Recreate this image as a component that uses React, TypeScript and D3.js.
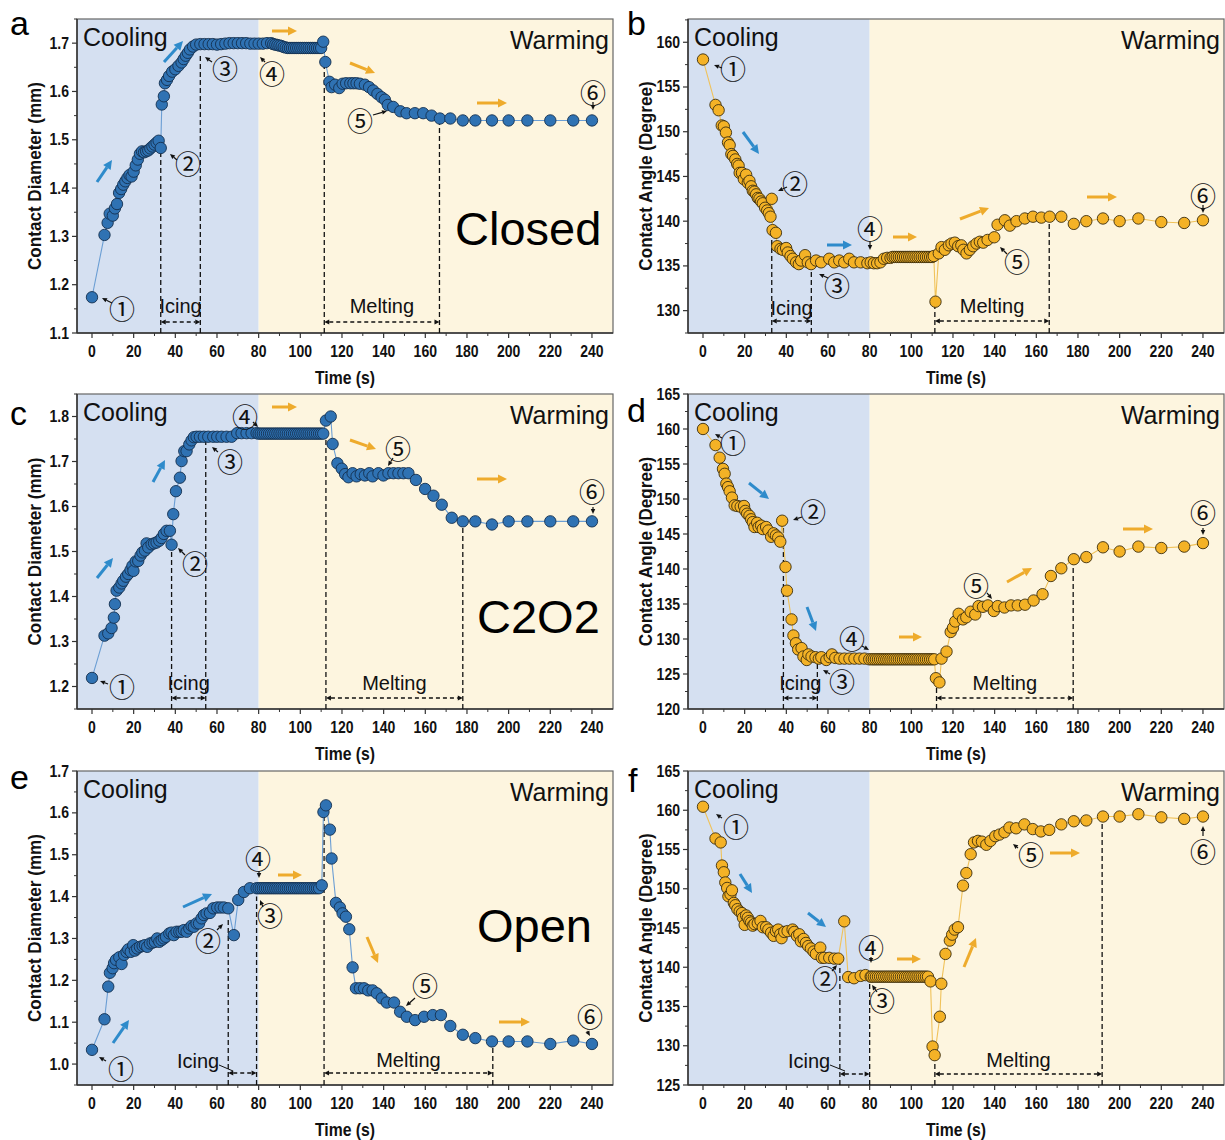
import React from "react";
import * as d3 from "d3";

type Pt = [number, number];
type Seg = [number, number, number, number];

// ---------- DATA ----------
const timeTicks = [0, 20, 40, 60, 80, 100, 120, 140, 160, 180, 200, 220, 240];
const timeDomain: [number, number] = [-7.2, 250.1];
const phaseSplit = 80;

const closedDiameter: Pt[] = [
  [0, 1.174], [6, 1.303], [7.5, 1.328], [8.5, 1.347], [10, 1.343], [11, 1.358], [12, 1.367], [13, 1.39], [14, 1.398],
  [15, 1.407], [16, 1.414], [17, 1.421], [18, 1.427], [19, 1.424], [20, 1.434], [21, 1.447], [22, 1.459], [23, 1.471],
  [24, 1.476], [25, 1.474], [26, 1.476], [27, 1.478], [28, 1.482], [29, 1.486], [30, 1.49], [31, 1.494], [32, 1.498],
  [33, 1.483], [33.5, 1.573], [34.5, 1.59], [35, 1.617], [36, 1.624], [37, 1.632], [38.5, 1.641], [40, 1.646],
  [41.5, 1.653], [43, 1.66], [44, 1.667], [45, 1.674], [46, 1.68], [47, 1.687], [48.5, 1.693], [50, 1.697], [52, 1.698],
  [54, 1.698], [56, 1.698], [58, 1.698], [60, 1.697], [62, 1.698], [64, 1.699], [66, 1.7], [68, 1.7], [70, 1.7], [72, 1.7],
  [74, 1.7], [76, 1.699], [78, 1.699], [80, 1.699], [82, 1.699], [84, 1.7], [86, 1.7], [87, 1.698], [88, 1.697],
  [89, 1.696], [90, 1.695], [91, 1.694], [92, 1.692], [93, 1.691], [94, 1.69], [95, 1.69], [96, 1.69], [97, 1.69],
  [98, 1.69], [99, 1.69], [100, 1.69], [101, 1.69], [102, 1.69], [103, 1.69], [104, 1.69], [105, 1.69], [106, 1.69],
  [107, 1.69], [108, 1.69], [109, 1.69], [110, 1.69], [111, 1.703], [112, 1.661], [114, 1.62], [115, 1.609],
  [116.7, 1.614], [118.7, 1.607], [120.3, 1.616], [122, 1.617], [124, 1.617], [125.5, 1.617], [127, 1.617],
  [128.6, 1.616], [131, 1.614], [133, 1.609], [135, 1.602], [137, 1.595], [139, 1.588], [140.6, 1.583], [142, 1.572],
  [144.6, 1.568], [148, 1.559], [151, 1.555], [155, 1.555], [159, 1.555], [163, 1.55], [167, 1.544], [172, 1.544],
  [178, 1.54], [184, 1.54], [192, 1.54], [200, 1.54], [209, 1.54], [220, 1.54], [231, 1.54], [240, 1.54],
];

const closedAngle: Pt[] = [
  [0, 158.07], [6, 153.0], [7.5, 152.4], [9, 150.7], [10, 150.6], [11, 149.9], [12, 148.8], [12.8, 148.5], [13.6, 147.5],
  [14.4, 147.3], [15.5, 146.9], [16.4, 146.4], [17.1, 146.2], [17.6, 145.4], [18.7, 145.4], [19.6, 144.7], [20.7, 145.2],
  [21.5, 144.3], [22.3, 144.5], [23.1, 143.9], [23.9, 143.4], [24.7, 143.3], [25.5, 143], [26.3, 142.6], [27.1, 142.5],
  [27.9, 142.2], [28.7, 142], [29.8, 141.5], [30.8, 141.2], [31.6, 140.9], [32.4, 140.5], [33, 142.5], [33.4, 139],
  [35, 138.7], [35.6, 137.2], [37.2, 136.9], [38.3, 136.8], [39.9, 137], [40.7, 136.5], [42, 136.1], [43.1, 135.8],
  [44.7, 135.4], [46, 135.2], [47.1, 135.6], [49, 136.2], [50.3, 135.4], [51.9, 135.2], [54.3, 135.6], [56.7, 135.4],
  [60.6, 135.8], [63, 135.4], [65.4, 135.6], [67.8, 135.4], [70.2, 135.8], [72.5, 135.4], [75.7, 135.4], [78.9, 135.3],
  [80.5, 135.4], [82, 135.3], [83.6, 135.3], [85.2, 135.4], [86.8, 135.8], [88.4, 135.9], [90, 135.9], [91, 136],
  [92, 136], [93, 136], [94, 136], [95, 136], [96, 136], [97, 136], [98, 136], [99, 136], [100, 136], [101, 136],
  [102, 136], [103, 136], [104, 136], [105, 136], [106, 136], [107, 136], [108, 136], [109, 136], [110, 136],
  [110.8, 136.1], [111.6, 131], [113.2, 136.4], [114.5, 137.1], [116.1, 136.8], [118, 137.3], [119.3, 137.5],
  [120.9, 137.6], [122.5, 137.2], [124, 137.3], [125, 136.8], [126.5, 136.4], [128.1, 136.8], [129.7, 137.2],
  [131.3, 137.5], [132.9, 137.7], [134.5, 137.6], [136.6, 137.9], [139.8, 138.2], [141.4, 139.6], [144.9, 140.1],
  [147.3, 139.5], [150.5, 140], [154.5, 140.3], [158.4, 140.5], [162.4, 140.4], [166.4, 140.5], [172, 140.5],
  [178, 139.7], [184, 140], [192, 140.3], [200, 140], [209, 140.3], [220, 139.9], [231, 139.8], [240, 140.1],
];

const c2o2Diameter: Pt[] = [
  [0, 1.219], [6, 1.313], [7.8, 1.318], [9.4, 1.33], [10.5, 1.353], [11, 1.383], [11.8, 1.413], [13.1, 1.42],
  [14.2, 1.429], [15, 1.435], [16.3, 1.444], [17.4, 1.45], [18.5, 1.459], [19.4, 1.468], [19.9, 1.457], [21, 1.478],
  [22.2, 1.479], [23.3, 1.491], [24.2, 1.498], [25.4, 1.502], [26.2, 1.518], [27, 1.509], [28.6, 1.516], [29.8, 1.518],
  [31, 1.52], [32.3, 1.524], [33.4, 1.53], [34.5, 1.539], [35.8, 1.546], [37.4, 1.546], [38.2, 1.515], [39, 1.583],
  [40.3, 1.634], [42.2, 1.664], [43, 1.701], [44.3, 1.723], [45.4, 1.723], [46.7, 1.738], [47.8, 1.747], [48.9, 1.754],
  [50.2, 1.755], [51.8, 1.755], [53.7, 1.755], [55.8, 1.755], [58.2, 1.755], [60.1, 1.755], [62.2, 1.755],
  [64.6, 1.755], [67, 1.755], [69.7, 1.763], [71.8, 1.763], [74.2, 1.763], [76.6, 1.763], [79, 1.763], [80, 1.762],
  [81, 1.762], [82, 1.762], [83, 1.762], [84, 1.762], [85, 1.762], [86, 1.762], [87, 1.762], [88, 1.762], [89, 1.762],
  [90, 1.762], [91, 1.762], [92, 1.762], [93, 1.762], [94, 1.762], [95, 1.762], [96, 1.762], [97, 1.762], [98, 1.762],
  [99, 1.762], [100, 1.762], [101, 1.762], [102, 1.762], [103, 1.762], [104, 1.762], [105, 1.762], [106, 1.762],
  [107, 1.762], [108, 1.762], [109, 1.762], [110, 1.762], [111, 1.762], [112.3, 1.791], [114.6, 1.8], [115.5, 1.739],
  [117.8, 1.696], [119.9, 1.684], [121.5, 1.672], [123.1, 1.665], [125.1, 1.674], [127, 1.667], [129, 1.672],
  [131, 1.669], [133.1, 1.674], [134.7, 1.667], [137.5, 1.674], [139.9, 1.669], [142.3, 1.674], [144.7, 1.674],
  [147.1, 1.674], [149.5, 1.674], [151.9, 1.674], [155.5, 1.659], [159.9, 1.639], [163.9, 1.624], [167.9, 1.604],
  [172.7, 1.575], [178, 1.567], [184, 1.567], [192, 1.56], [200, 1.567], [209, 1.567], [220, 1.567], [231, 1.567],
  [240, 1.567],
];

const c2o2Angle: Pt[] = [
  [0, 160], [6, 157.7], [8, 155.9], [9.6, 154.3], [10.4, 153.6], [11.2, 152.2], [12, 151.7], [12.8, 151.1],
  [13.9, 150.2], [15.2, 149.1], [16.5, 149], [18.1, 148.9], [19.7, 149], [20.3, 148.3], [21.2, 147.9], [22.3, 147.6],
  [23.1, 147.1], [23.9, 146.7], [24.7, 146], [26, 146.6], [26.7, 146], [27.9, 146.2], [28.7, 145.7], [30.3, 146],
  [31.4, 145.5], [32.7, 144.6], [33.9, 145.1], [35, 144.8], [36.1, 144.5], [37.1, 143.9], [38, 146.9], [39.6, 140.3],
  [40.3, 136.9], [42.5, 132.8], [43.4, 130.5], [44.6, 129.4], [45.7, 128.5], [47.3, 128.7], [48.2, 127.5], [49.8, 127],
  [50.6, 127.8], [52.1, 127.5], [54, 127.4], [55.6, 127.2], [56.8, 127.4], [59.2, 127], [60.8, 127.4], [61.9, 127.8],
  [63.5, 127.3], [65.6, 127.2], [67.9, 127.2], [70.3, 127.2], [72.7, 127.2], [75.1, 127.2], [77.5, 127.2],
  [79.8, 127.1], [81, 127.1], [82, 127.1], [83, 127.1], [84, 127.1], [85, 127.1], [86, 127.1], [87, 127.1], [88, 127.1],
  [89, 127.1], [90, 127.1], [91, 127.1], [92, 127.1], [93, 127.1], [94, 127.1], [95, 127.1], [96, 127.1], [97, 127.1],
  [98, 127.1], [99, 127.1], [100, 127.1], [101, 127.1], [102, 127.1], [103, 127.1], [104, 127.1], [105, 127.1],
  [106, 127.1], [107, 127.1], [108, 127.1], [109, 127.1], [110, 127.1], [111, 127.1], [111.8, 124.4], [113.5, 123.8],
  [114.5, 127.2], [116.9, 128.2], [118.9, 131], [120, 131.6], [121.1, 132.5], [122.7, 133.6], [124.8, 132.8],
  [126.4, 133.1], [128.5, 133.9], [130.7, 133.5], [132.3, 134.7], [134.4, 134.6], [136.8, 134.8], [139.6, 134],
  [141.5, 134.7], [144.7, 134.5], [147.9, 134.8], [151.1, 134.8], [154.6, 134.9], [158.7, 135.5], [163, 136.4],
  [167, 139], [172, 140.1], [178, 141.4], [184, 141.7], [192, 143.1], [200, 142.5], [209, 143.2], [220, 143],
  [231, 143.2], [240, 143.7],
];

const openDiameter: Pt[] = [
  [0, 1.034], [6, 1.107], [7.8, 1.185], [8.6, 1.218], [9.9, 1.229], [10.6, 1.241], [11.5, 1.249], [13.1, 1.255],
  [14.2, 1.239], [15.4, 1.261], [16.6, 1.268], [17.4, 1.274], [18.6, 1.268], [19.8, 1.284], [20.6, 1.271], [21.7, 1.276],
  [23, 1.28], [24.3, 1.282], [25.4, 1.284], [26.5, 1.28], [27.8, 1.288], [29.1, 1.29], [30.2, 1.292], [31.3, 1.3],
  [32.3, 1.292], [33.4, 1.296], [34.5, 1.3], [35.5, 1.304], [37.1, 1.312], [38.2, 1.314], [39.3, 1.308], [40.6, 1.316],
  [41.9, 1.316], [43, 1.316], [44.1, 1.32], [45.4, 1.316], [46.7, 1.324], [47.8, 1.33], [48.9, 1.328], [50.2, 1.336],
  [51.4, 1.336], [52.6, 1.348], [53.7, 1.356], [55, 1.36], [56.6, 1.361], [58.2, 1.372], [60.1, 1.374], [61.7, 1.374],
  [63.3, 1.374], [65.4, 1.372], [68.1, 1.308], [70.2, 1.392], [72.9, 1.411], [75.8, 1.42], [79, 1.42], [80, 1.42],
  [81, 1.42], [82, 1.42], [83, 1.42], [84, 1.42], [85, 1.42], [86, 1.42], [87, 1.42], [88, 1.42], [89, 1.42], [90, 1.42],
  [91, 1.42], [92, 1.42], [93, 1.42], [94, 1.42], [95, 1.42], [96, 1.42], [97, 1.42], [98, 1.42], [99, 1.42], [100, 1.42],
  [101, 1.42], [102, 1.42], [103, 1.42], [104, 1.42], [105, 1.42], [106, 1.42], [107, 1.42], [108, 1.42], [109, 1.42],
  [110.3, 1.427], [111.1, 1.602], [112.3, 1.618], [114.2, 1.56], [115, 1.491], [117.1, 1.385], [119, 1.374],
  [120.3, 1.36], [121.9, 1.352], [123.5, 1.322], [125.1, 1.231], [126.7, 1.181], [128.6, 1.181], [130.6, 1.181],
  [132.6, 1.176], [134.7, 1.176], [136.7, 1.169], [139.1, 1.157], [141.5, 1.147], [145, 1.147], [147.9, 1.125],
  [151.1, 1.113], [155.1, 1.105], [159.4, 1.113], [163.6, 1.117], [167.5, 1.117], [172, 1.091], [178, 1.07],
  [184, 1.062], [192, 1.054], [200, 1.054], [209, 1.054], [220, 1.048], [231, 1.056], [240, 1.048],
];

const openAngle: Pt[] = [
  [0, 160.45], [6, 156.4], [8.5, 155.9], [9.1, 152.96], [10, 152.1], [10.7, 150.8], [11.6, 150.1], [12.2, 149.04],
  [13.2, 149.3], [13.9, 149.8], [14.8, 148.2], [15.5, 147.9], [16.5, 147.4], [17.6, 147.1], [18.7, 146.9], [19.2, 146.3],
  [20, 145.4], [20.7, 146.6], [21.5, 146.3], [22.3, 145.9], [23.1, 145.7], [23.9, 145.3], [24.7, 145.5], [26.3, 145.6],
  [27.6, 145.9], [28.7, 145.1], [30.3, 145.1], [31.4, 144.8], [32.7, 144.4], [33.9, 144], [35, 144.6], [36.1, 144.8],
  [37.1, 144.2], [37.7, 143.7], [39, 144.5], [40.6, 144.6], [43, 144.8], [43.8, 144.5], [45.1, 144], [46.2, 144.2],
  [47, 143.3], [48.3, 143.6], [49.4, 143.1], [50.5, 142.7], [51.8, 142.4], [53.1, 142], [54.2, 141.7], [56.3, 142.5],
  [57, 141.2], [58.2, 141.2], [60.6, 141.2], [63, 141.1], [64.9, 141.1], [67.8, 145.85], [69.7, 138.75], [72.5, 138.6],
  [75.7, 138.9], [78, 139], [80.5, 138.8], [81, 138.8], [82, 138.8], [83, 138.8], [84, 138.8], [85, 138.8], [86, 138.8],
  [87, 138.8], [88, 138.8], [89, 138.8], [90, 138.8], [91, 138.8], [92, 138.8], [93, 138.8], [94, 138.8], [95, 138.8],
  [96, 138.8], [97, 138.8], [98, 138.8], [99, 138.8], [100, 138.8], [101, 138.8], [102, 138.8], [103, 138.8],
  [104, 138.8], [105, 138.8], [106, 138.8], [107, 138.8], [108, 138.8], [109.2, 138.2], [110.2, 129.9], [111.2, 128.8],
  [113.7, 133.7], [114.4, 137.9], [116.4, 141.7], [118.5, 143.4], [119.6, 144.15], [120.8, 144.8], [122.4, 145.1],
  [124.8, 150.4], [126.4, 152], [128.5, 154.4], [130.1, 155.9], [132, 156.1], [133.9, 156], [136, 155.6], [138, 156.1],
  [140.3, 156.7], [142.3, 156.9], [144.7, 157.2], [147.1, 157.8], [150.3, 157.7], [154.3, 158.2], [158.3, 157.6],
  [162.2, 157.3], [166.2, 157.5], [172, 158.2], [178, 158.6], [184, 158.7], [192, 159.2], [200, 159.2], [209, 159.5],
  [220, 159.1], [231, 158.9], [240, 159.2],
];

const diamTicksA = [1.1, 1.2, 1.3, 1.4, 1.5, 1.6, 1.7];
const diamTicksC = [1.2, 1.3, 1.4, 1.5, 1.6, 1.7, 1.8];
const diamTicksE = [1.0, 1.1, 1.2, 1.3, 1.4, 1.5, 1.6, 1.7];
const angleTicksB = [130, 135, 140, 145, 150, 155, 160];
const angleTicksD = [120, 125, 130, 135, 140, 145, 150, 155, 160, 165];
const angleTicksF = [125, 130, 135, 140, 145, 150, 155, 160, 165];

// ---------- STYLE ----------
const FONT = "'Liberation Sans', Arial, Helvetica, sans-serif";
const COOL_BG = "#d5e0f1";
const WARM_BG = "#fdf5df";
const STYLES = {
  blue: { fill: "#2f72b3", stroke: "#14304f", line: "#6b9ed4" },
  orange: { fill: "#f4b226", stroke: "#3b2e0e", line: "#f0c25a" },
};
const TREND = { blue: "#2e8bcb", orange: "#eeab2c" };

interface Phase {
  t1: number; t2: number; top1: number; top2: number;
  ay: number; ty: number; label: string; tx?: number; leader?: Seg;
}
interface PanelCfg {
  letter: string; lx: number; ly: number;
  x0: number; y0: number; w: number; h: number;
  yDomain: [number, number]; yTicks: number[]; yFmt: (v: number) => string;
  yLabel: string; data: Pt[]; kind: "blue" | "orange";
  circled: [string, number, number][];
  pointers: Seg[];
  trends: ["blue" | "orange", number, number, number, number][];
  icing: Phase; melting: Phase;
  big?: [string, number, number];
}

const f1 = d3.format(".1f");
const fd = d3.format("d");

const panels: PanelCfg[] = [
  {
    letter: "a", lx: 10, ly: 35, x0: 77, y0: 19, w: 536, h: 314,
    yDomain: [1.1, 1.75], yTicks: diamTicksA, yFmt: f1, yLabel: "Contact Diameter (mm)",
    data: closedDiameter, kind: "blue",
    circled: [["①", 45, 291], ["②", 111, 146], ["③", 148, 51], ["④", 195, 56], ["⑤", 283, 103], ["⑥", 516, 75]],
    pointers: [[35, 284, 25, 279], [100, 141, 93, 135], [135, 43, 128, 38], [188, 43, 183, 38], [296, 96, 310, 92], [516, 83, 516, 91]],
    trends: [["blue", 20, 163, 35, 141], ["blue", 87, 43, 106, 22], ["orange", 195, 12, 220, 12], ["orange", 273, 44, 298, 54], ["orange", 400, 84, 430, 84]],
    icing: { t1: 33, t2: 52, top1: 1.483, top2: 1.675, ay: 303, ty: 294, label: "Icing" },
    melting: { t1: 111.5, t2: 166.8, top1: 1.661, top2: 1.545, ay: 303, ty: 294, label: "Melting" },
    big: ["Closed", 378, 226],
  },
  {
    letter: "b", lx: 627, ly: 35, x0: 688, y0: 19, w: 536, h: 314,
    yDomain: [127.5, 162.6], yTicks: angleTicksB, yFmt: fd, yLabel: "Contact Angle (Degree)",
    data: closedAngle, kind: "orange",
    circled: [["①", 45, 51], ["②", 107, 166], ["③", 149, 268], ["④", 182, 211], ["⑤", 329, 244], ["⑥", 515, 178]],
    pointers: [[34, 49, 26, 46], [99, 168, 90, 172], [140, 259, 131, 255], [182, 222, 182, 231], [319, 235, 312, 228], [515, 186, 515, 194]],
    trends: [["blue", 55, 113, 71, 135], ["blue", 139, 226, 164, 226], ["orange", 205, 218, 229, 218], ["orange", 272, 200, 301, 189], ["orange", 399, 178, 429, 178]],
    icing: { t1: 33, t2: 52, top1: 139, top2: 135, ay: 302, ty: 296, label: "Icing" },
    melting: { t1: 111.3, t2: 166.2, top1: 131, top2: 140.5, ay: 302, ty: 294, label: "Melting" },
  },
  {
    letter: "c", lx: 10, ly: 425, x0: 77, y0: 394, w: 536, h: 315,
    yDomain: [1.15, 1.85], yTicks: diamTicksC, yFmt: f1, yLabel: "Contact Diameter (mm)",
    data: c2o2Diameter, kind: "blue",
    circled: [["①", 45, 294], ["②", 118, 171], ["③", 153, 69], ["④", 168, 24], ["⑤", 321, 56], ["⑥", 515, 99]],
    pointers: [[31, 290, 23, 287], [108, 161, 101, 154], [141, 58, 135, 53], [176, 28, 181, 33], [316, 64, 311, 72], [516, 113, 516, 120]],
    trends: [["blue", 20, 184, 36, 164], ["blue", 76, 88, 88, 66], ["orange", 195, 13, 220, 13], ["orange", 273, 46, 299, 55], ["orange", 400, 85, 430, 85]],
    icing: { t1: 38.2, t2: 54.6, top1: 1.515, top2: 1.755, ay: 304, ty: 296, label: "Icing" },
    melting: { t1: 112.3, t2: 178, top1: 1.76, top2: 1.567, ay: 304, ty: 296, label: "Melting" },
    big: ["C2O2", 400, 239],
  },
  {
    letter: "d", lx: 627, ly: 422, x0: 688, y0: 394, w: 536, h: 315,
    yDomain: [120, 165], yTicks: angleTicksD, yFmt: fd, yLabel: "Contact Angle (Degree)",
    data: c2o2Angle, kind: "orange",
    circled: [["①", 45, 50], ["②", 125, 119], ["③", 154, 289], ["④", 164, 246], ["⑤", 288, 193], ["⑥", 515, 120]],
    pointers: [[34, 44, 27, 40], [114, 123, 105, 126], [142, 280, 135, 276], [174, 252, 181, 256], [299, 199, 304, 205], [515, 134, 515, 141]],
    trends: [["blue", 61, 89, 81, 105], ["blue", 119, 213, 128, 237], ["orange", 211, 243, 234, 243], ["orange", 319, 188, 344, 174], ["orange", 435, 135, 465, 135]],
    icing: { t1: 38.6, t2: 54.9, top1: 146, top2: 127.3, ay: 304, ty: 296, label: "Icing" },
    melting: { t1: 112.1, t2: 177.7, top1: 124.4, top2: 141.4, ay: 304, ty: 296, label: "Melting" },
  },
  {
    letter: "e", lx: 10, ly: 789, x0: 77, y0: 771, w: 536, h: 314,
    yDomain: [0.95, 1.7], yTicks: diamTicksE, yFmt: f1, yLabel: "Contact Diameter (mm)",
    data: openDiameter, kind: "blue",
    circled: [["①", 44, 299], ["②", 131, 171], ["③", 193, 146], ["④", 181, 89], ["⑤", 348, 216], ["⑥", 513, 247]],
    pointers: [[29, 290, 22, 286], [140, 159, 146, 153], [186, 136, 183, 129], [182, 100, 182, 107], [338, 227, 329, 235], [510, 260, 513, 265]],
    trends: [["blue", 36, 272, 52, 249], ["blue", 106, 136, 135, 123], ["orange", 201, 104, 225, 104], ["orange", 290, 166, 301, 192], ["orange", 422, 251, 453, 251]],
    icing: { t1: 65.4, t2: 79, top1: 1.348, top2: 1.4, ay: 302, ty: 297, label: "Icing", tx: 121, leader: [142, 294, 156, 300] },
    melting: { t1: 111.4, t2: 192.4, top1: 1.6, top2: 1.054, ay: 302, ty: 296, label: "Melting" },
    big: ["Open", 400, 171],
  },
  {
    letter: "f", lx: 628, ly: 792, x0: 688, y0: 771, w: 536, h: 314,
    yDomain: [125, 165], yTicks: angleTicksF, yFmt: fd, yLabel: "Contact Angle (Degree)",
    data: openAngle, kind: "orange",
    circled: [["①", 48, 57], ["②", 137, 209], ["③", 194, 231], ["④", 183, 178], ["⑤", 343, 85], ["⑥", 515, 82]],
    pointers: [[34, 47, 28, 43], [144, 200, 149, 194], [189, 221, 184, 214], [183, 186, 183, 192], [330, 77, 325, 73], [515, 65, 515, 55]],
    trends: [["blue", 52, 103, 64, 122], ["blue", 120, 142, 138, 156], ["orange", 209, 188, 233, 188], ["orange", 276, 196, 288, 167], ["orange", 362, 82, 392, 82]],
    icing: { t1: 65.7, t2: 80, top1: 141.1, top2: 138.6, ay: 303, ty: 297, label: "Icing", tx: 121, leader: [142, 294, 157, 300] },
    melting: { t1: 111.3, t2: 191.6, top1: 128.8, top2: 159.2, ay: 303, ty: 296, label: "Melting" },
  },
];

// ---------- HELPERS ----------
function head(x1: number, y1: number, x2: number, y2: number, len: number, wid: number) {
  const a = Math.atan2(y2 - y1, x2 - x1);
  const bx = x2 - len * Math.cos(a), by = y2 - len * Math.sin(a);
  const px = (-Math.sin(a) * wid) / 2, py = (Math.cos(a) * wid) / 2;
  return { d: `M${x2},${y2}L${bx + px},${by + py}L${bx - px},${by - py}Z`, bx, by };
}

function Arrow({ s, color, width, len, wid }: { s: Seg; color: string; width: number; len: number; wid: number }) {
  const [x1, y1, x2, y2] = s;
  const h = head(x1, y1, x2, y2, len, wid);
  return (
    <g>
      <line x1={x1} y1={y1} x2={h.bx} y2={h.by} stroke={color} strokeWidth={width} />
      <path d={h.d} fill={color} />
    </g>
  );
}

function Panel({ c }: { c: PanelCfg }) {
  const { x0, y0, w, h } = c;
  const x = d3.scaleLinear().domain(timeDomain).range([x0, x0 + w]);
  const y = d3.scaleLinear().domain(c.yDomain).range([y0 + h, y0]);
  const st = STYLES[c.kind];
  const line = d3.line<Pt>().x((d) => x(d[0])).y((d) => y(d[1]));
  const split = x(phaseSplit);
  const bottom = y0 + h;
  const xMinor = d3.range(10, 250, 20);
  const step = c.yTicks[1] - c.yTicks[0];
  const yMinor = [c.yTicks[0] - step / 2, ...c.yTicks.map((t) => t + step / 2)].filter(
    (v) => v >= c.yDomain[0] - 1e-9 && v <= c.yDomain[1] + 1e-9
  );

  const phase = (p: Phase, key: string) => {
    const xa = x(p.t1), xb = x(p.t2);
    const ay = y0 + p.ay;
    const hl = head(xb, ay, xa, ay, 5, 5);
    const hr = head(xa, ay, xb, ay, 5, 5);
    const tx = p.tx !== undefined ? x0 + p.tx : (xa + xb) / 2;
    return (
      <g key={key}>
        <line x1={xa} y1={bottom} x2={xa} y2={y(p.top1)} stroke="#111" strokeWidth={1.3} strokeDasharray="5,3" />
        <line x1={xb} y1={bottom} x2={xb} y2={y(p.top2)} stroke="#111" strokeWidth={1.3} strokeDasharray="5,3" />
        <line x1={hl.bx} y1={ay} x2={hr.bx} y2={ay} stroke="#111" strokeWidth={1.3} strokeDasharray="4,3" />
        <path d={hl.d} fill="#111" />
        <path d={hr.d} fill="#111" />
        <text x={tx} y={y0 + p.ty} textAnchor="middle" fontFamily={FONT} fontSize={20} fill="#111">{p.label}</text>
        {p.leader && (
          <line x1={x0 + p.leader[0]} y1={y0 + p.leader[1]} x2={x0 + p.leader[2]} y2={y0 + p.leader[3]} stroke="#111" strokeWidth={1} />
        )}
      </g>
    );
  };

  return (
    <g>
      <rect x={x0} y={y0} width={split - x0} height={h} fill={COOL_BG} />
      <rect x={split} y={y0} width={x0 + w - split} height={h} fill={WARM_BG} />
      <rect x={x0} y={y0} width={w} height={h} fill="none" stroke="#666" strokeWidth={1.2} />
      <line x1={x0} y1={bottom} x2={x0 + w} y2={bottom} stroke="#333" strokeWidth={1.5} />
      <line x1={x0} y1={y0} x2={x0} y2={bottom} stroke="#333" strokeWidth={1.5} />

      {/* x ticks */}
      {timeTicks.map((t) => (
        <g key={"xt" + t}>
          <line x1={x(t)} x2={x(t)} y1={bottom} y2={bottom + 5} stroke="#333" strokeWidth={1.2} />
          <text transform={`translate(${x(t)},${bottom + 24}) scale(0.85,1)`} textAnchor="middle" fontFamily={FONT} fontWeight="bold" fontSize={16.5} fill="#111">{t}</text>
        </g>
      ))}
      {xMinor.map((t) => (
        <line key={"xm" + t} x1={x(t)} x2={x(t)} y1={bottom} y2={bottom + 3} stroke="#333" strokeWidth={1} />
      ))}
      {/* y ticks */}
      {c.yTicks.map((v) => (
        <g key={"yt" + v}>
          <line x1={x0 - 5} x2={x0} y1={y(v)} y2={y(v)} stroke="#333" strokeWidth={1.2} />
          <text transform={`translate(${x0 - 8},${y(v) + 5.5}) scale(0.85,1)`} textAnchor="end" fontFamily={FONT} fontWeight="bold" fontSize={16.5} fill="#111">{c.yFmt(v)}</text>
        </g>
      ))}
      {yMinor.map((v) => (
        <line key={"ym" + v} x1={x0 - 3} x2={x0} y1={y(v)} y2={y(v)} stroke="#333" strokeWidth={1} />
      ))}

      <text transform={`translate(${x0 + w / 2},${bottom + 51}) scale(0.9,1)`} textAnchor="middle" fontFamily={FONT} fontWeight="bold" fontSize={17.5} fill="#111">Time (s)</text>
      <text transform={`translate(${x0 - 36},${y0 + h / 2}) rotate(-90) scale(0.95,1)`} textAnchor="middle" fontFamily={FONT} fontWeight="bold" fontSize={18} fill="#111">{c.yLabel}</text>

      <text x={x0 + 6} y={y0 + 27} fontFamily={FONT} fontSize={25} fill="#111">Cooling</text>
      <text x={x0 + w - 4} y={y0 + 30} textAnchor="end" fontFamily={FONT} fontSize={25} fill="#111">Warming</text>
      {c.big && (
        <text x={x0 + c.big[1]} y={y0 + c.big[2]} fontFamily={FONT} fontSize={47} fill="#000">{c.big[0]}</text>
      )}

      {phase(c.icing, "ice")}
      {phase(c.melting, "melt")}

      <path d={line(c.data) || ""} fill="none" stroke={st.line} strokeWidth={1.1} />
      {c.data.map((d, i) => (
        <circle key={i} cx={x(d[0])} cy={y(d[1])} r={5.7} fill={st.fill} stroke={st.stroke} strokeWidth={0.9} />
      ))}

      {c.trends.map((t, i) => (
        <Arrow key={"tr" + i} s={[x0 + t[1], y0 + t[2], x0 + t[3], y0 + t[4]]} color={TREND[t[0]]} width={3} len={9} wid={9} />
      ))}
      {c.pointers.map((p, i) => (
        <Arrow key={"pt" + i} s={[x0 + p[0], y0 + p[1], x0 + p[2], y0 + p[3]]} color="#111" width={1.2} len={5} wid={4.5} />
      ))}
      {c.circled.map((cl, i) => (
        <text key={"cl" + i} x={x0 + cl[1]} y={y0 + cl[2] + 9} textAnchor="middle" fontFamily="'Noto Sans CJK SC', 'DejaVu Sans', sans-serif" fontSize={26} fill="#111">{cl[0]}</text>
      ))}

      <text x={c.lx} y={c.ly} fontFamily={FONT} fontSize={34} fill="#000">{c.letter}</text>
    </g>
  );
}

export default function App() {
  return (
    <svg width={1225} height={1140} viewBox="0 0 1225 1140" style={{ position: "absolute", left: 0, top: 0, display: "block", background: "#fff" }}>
      <rect x={0} y={0} width={1225} height={1140} fill="#fff" />
      {panels.map((p) => (
        <Panel key={p.letter} c={p} />
      ))}
    </svg>
  );
}
